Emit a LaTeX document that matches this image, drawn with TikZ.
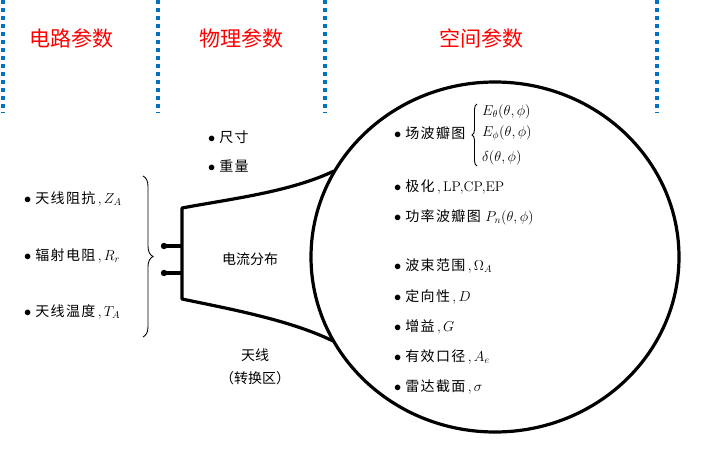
\documentclass[tikz,border=0pt]{standalone}
\usepackage{amsmath,amssymb}
\usepackage{fontspec}
\newfontfamily\cjk{Noto Sans CJK SC}
\newfontfamily\cjkw[LetterSpace=10]{Noto Sans CJK SC}
\usetikzlibrary{calc,positioning,decorations.pathreplacing}
\definecolor{sepblue}{RGB}{0,112,192}
\begin{document}
\begin{tikzpicture}[x=1pt, y=-1pt,
  sepline/.style={sepblue, line width=3.5pt, dash pattern=on 4pt off 4pt},
  title/.style={text=red, font=\fontsize{21}{24}\selectfont\cjk, inner sep=0pt},
  param/.style={anchor=west, inner sep=0pt, font=\fontsize{14}{16}\selectfont},
  plain/.style={inner sep=0pt, font=\fontsize{14}{16}\selectfont\cjk},
  horn/.style={line width=3.2pt, line join=round},
  bracedeco/.style={decorate, decoration={brace, amplitude=#1}, line width=0.9pt}]
\useasboundingbox (0,0) rectangle (702,458);
% column separators
\foreach \x in {3,158,325,657}
  \draw[sepline] (\x,0) -- (\x,113);
\node[title] (tCirc) at (72,38) {电路参数};
\node[title] (tPhys) at (241,38) {物理参数};
\node[title] (tSpace) at (481,38) {空间参数};
% circuit parameters
\node[param] (zA) at (24,199) {$\bullet$\;{\cjkw 天线阻抗}\,,\,$Z_{A}$};
\node[param] (rR) at (24,256) {$\bullet$\;{\cjkw 辐射电阻}\,,\,$R_{r}$};
\node[param] (tA) at (24,312) {$\bullet$\;{\cjkw 天线温度}\,,\,$T_{A}$};
\coordinate (brTop) at (143,176);
\coordinate (brBot) at (143,337);
\draw[bracedeco=10pt] (brTop) -- (brBot);
% physical parameters
\node[param] (size) at (208,137) {$\bullet$\;{\cjkw 尺寸}};
\node[param] (mass) at (208,166) {$\bullet$\;{\cjkw 重量}};
% antenna horn
\coordinate (hTL) at (182,208);
\coordinate (hBL) at (182,299);
\coordinate (hTR) at (334,171);
\coordinate (hBR) at (333,341);
\draw[horn] (hTR) .. controls (290,192) and (230,199) .. (hTL) -- (hBL)
  .. controls (230,309) and (290,320) .. (hBR);
\coordinate (jA) at (182,246);
\coordinate (jB) at (182,273);
\coordinate (pA) at (164,246);
\coordinate (pB) at (164,273);
\draw[horn] (pA) -- (jA) (pB) -- (jB);
\fill (pA) circle (3.2pt) (pB) circle (3.2pt);
\node[plain] (cur) at (250,259) {电流分布};
\node[plain] (ant) at (255,355) {天线};
\node[plain] (conv) at (255,378) {（转换区）};
% radiation sphere
\coordinate (sph) at (495,257);
\draw[horn] (sph) ellipse [x radius=184pt, y radius=175pt];
\node[param] (fld) at (394,133) {$\bullet$\;{\cjkw 场波瓣图}};
\coordinate (fbBot) at (477,166);
\coordinate (fbTop) at (477,104);
\draw[bracedeco=5pt] (fbBot) -- (fbTop);
\node[param] (eTh) at (482,112) {$E_{\theta}(\theta,\phi)$};
\node[param] (ePh) at (482,133) {$E_{\phi}(\theta,\phi)$};
\node[param] (dlt) at (482,158) {$\delta(\theta,\phi)$};
\node[param] (pol) at (394,187) {$\bullet$\;{\cjkw 极化}\,,\,LP,CP,EP};
\node[param] (pwr) at (394,217) {$\bullet$\;{\cjkw 功率波瓣图}\ $P_{n}(\theta,\phi)$};
\node[param] (bma) at (394,266) {$\bullet$\;{\cjkw 波束范围}\,,\,$\Omega_{A}$};
\node[param] (dir) at (394,297) {$\bullet$\;{\cjkw 定向性}\,,\,$D$};
\node[param] (gain) at (394,327) {$\bullet$\;{\cjkw 增益}\,,\,$G$};
\node[param] (aper) at (394,357) {$\bullet$\;{\cjkw 有效口径}\,,\,$A_{e}$};
\node[param] (rcs) at (394,387) {$\bullet$\;{\cjkw 雷达截面}\,,\,$\sigma$};
\end{tikzpicture}
\end{document}
